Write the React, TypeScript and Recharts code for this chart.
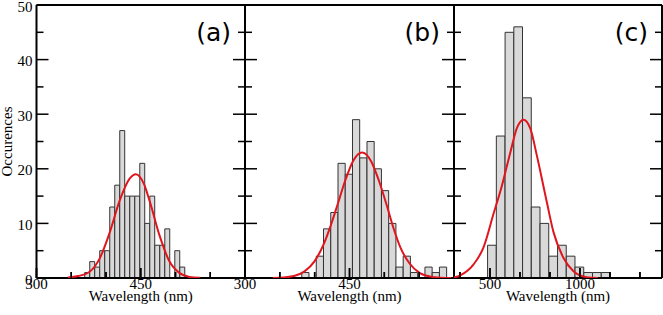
import React from 'react';
import { BarChart, Bar, LineChart, Line, XAxis, YAxis, Label } from 'recharts';

// ---------- data ----------
const aCenters = [373.0, 380.2, 387.4, 394.6, 401.8, 409.0, 416.2, 423.4, 430.6, 437.8, 445.0, 452.2, 459.4, 466.6, 473.8, 481.0, 488.2, 495.4, 502.6, 509.8];
const aCounts = [1, 3, 2, 5, 5, 13, 17, 27, 15, 15, 15, 21, 10, 15, 6, 6, 9, 0, 5, 2];
const aFitX = [345, 360, 376, 391, 405, 420, 434, 443, 455, 463, 477, 491, 506, 520, 535];
const aFitY = [0.08, 0.35, 1.1, 3.6, 8.2, 14.3, 18.2, 19.0, 17.1, 14.0, 7.8, 3.1, 0.9, 0.2, 0.03];

const bCenters = [386.7, 397.1, 407.5, 417.9, 428.3, 438.7, 449.1, 459.5, 469.9, 480.3, 490.7, 501.1, 511.5, 521.9, 532.3, 542.7, 553.1, 563.5, 573.9, 584.3];
const bCounts = [1, 0, 4, 9, 12, 21, 19, 29, 22, 25, 20, 16, 10, 2, 4, 1, 0, 2, 1, 2];
const bFitX = [340, 355, 370, 385, 400, 413, 423, 433, 444, 455, 468, 481, 492, 503, 513, 523, 536, 551, 566, 581, 596];
const bFitY = [0.02, 0.09, 0.36, 1.17, 3.1, 6.2, 9.6, 13.5, 17.9, 21.4, 23.0, 21.4, 17.9, 13.5, 9.2, 5.6, 2.7, 0.9, 0.25, 0.06, 0.01];

const cCenters = [511.0, 559.6, 608.2, 656.8, 705.4, 754.0, 802.6, 851.2, 899.8, 948.4, 997.0, 1045.6, 1094.2, 1142.8];
const cCounts = [6, 26, 45, 46, 33, 13, 10, 4, 6, 4, 2, 1, 1, 1];
const cFitX = [300, 335, 409, 464, 520, 567, 613, 650, 686, 724, 760, 812, 853, 908, 964, 1038, 1100];
const cFitY = [0.1, 0.5, 2.5, 5.6, 11.8, 17.0, 23.0, 27.5, 29.0, 27.4, 22.5, 14.5, 8.4, 3.7, 1.25, 0.15, 0.02];

const abTicks = [300, 350, 400, 450, 500, 550, 600];
const abMajor = [300, 450, 600];
const abLabels = [300, 450];
const cTicks = [333.33, 500, 666.67, 833.33, 1000, 1166.67, 1333.33];
const cMajor = [500, 1000];
const cLabels = [500, 1000];

const yTicks = [0, 5, 10, 15, 20, 25, 30, 35, 40, 45, 50];
const yLabels = [0, 10, 20, 30, 40, 50];

// ---------- layout ----------
const W = 663;
const H = 315;
const TOP = 5;
const BOTTOM = 278;
const SERIF = '"Liberation Serif", "Times New Roman", serif';
const SANS = '"DejaVu Sans", Verdana, sans-serif';

const hit = (list: number[], v: number) => list.some((m) => Math.abs(m - v) < 1e-6);

const bottomTick = (majors: number[], labels: number[]) => (p: any) => {
  const { x, y, payload } = p;
  const v = payload.value;
  const len = hit(majors, v) ? 10 : 6;
  return (
    <g>
      <line x1={x} x2={x} y1={y} y2={y - len} stroke="#000" strokeWidth={1.5} />
      {hit(labels, v) ? (
        <text x={x} y={y + 11} textAnchor="middle" fontFamily={SERIF} fontSize={15} fill="#000">
          {Math.round(v)}
        </text>
      ) : null}
    </g>
  );
};

const topTick = (majors: number[]) => (p: any) => {
  const { x, y, payload } = p;
  const len = hit(majors, payload.value) ? 10 : 6;
  return <line x1={x} x2={x} y1={y} y2={y + len} stroke="#000" strokeWidth={1.5} />;
};

const leftTick = (showLabels: boolean) => (p: any) => {
  const { x, y, payload } = p;
  const v = payload.value;
  const major = v % 10 === 0;
  return (
    <g>
      <line x1={x} x2={x + (major ? 12 : 7)} y1={y} y2={y} stroke="#000" strokeWidth={1.5} />
      {showLabels && hit(yLabels, v) ? (
        <text x={x - 4} y={y + 6.5} textAnchor="end" fontFamily={SERIF} fontSize={15} fill="#000">
          {v}
        </text>
      ) : null}
    </g>
  );
};

const rightTick = (p: any) => {
  const { x, y, payload } = p;
  const major = payload.value % 10 === 0;
  return <line x1={x} x2={x - (major ? 12 : 7)} y1={y} y2={y} stroke="#000" strokeWidth={1.5} />;
};

type PanelProps = {
  centers: number[];
  counts: number[];
  fitX: number[];
  fitY: number[];
  domain: [number, number];
  ticks: number[];
  majors: number[];
  labels: number[];
  tag: string;
  left: number;
  right: number;
  showY: boolean;
};

const layer: React.CSSProperties = { position: 'absolute', left: 0, top: 0 };

function Panel(props: PanelProps) {
  const { centers, counts, fitX, fitY, domain, ticks, majors, labels, tag, left, right, showY } = props;
  const rows = centers.map((x, i) => ({ x, n: counts[i] }));
  const fit = fitX.map((x, i) => ({ x, y: fitY[i] }));
  // axes occupy 1px each in the bar chart, so its margins are 1px smaller
  const barMargin = { top: TOP - 1, bottom: H - BOTTOM - 1, left: left - 1, right: W - right - 1 };
  const lineMargin = { top: TOP, bottom: H - BOTTOM - 1, left, right: W - right };
  const plotW = right - left;
  const band = (plotW * (centers[1] - centers[0])) / (domain[1] - domain[0]);
  const barSize = band - 0.06;

  return (
    <>
      <div style={layer}>
        <BarChart width={W} height={H} data={rows} margin={barMargin} barCategoryGap={0} barGap={0}>
          <Bar
            dataKey="n"
            xAxisId="bottom"
            yAxisId="left"
            fill="#d9d9d9"
            stroke="#333"
            strokeWidth={1}
            barSize={barSize}
            isAnimationActive={false}
          />
          <XAxis
            xAxisId="bottom"
            type="number"
            dataKey="x"
            domain={domain}
            allowDataOverflow
            ticks={ticks}
            interval={0}
            height={1}
            tickSize={0}
            tickMargin={0}
            tickLine={false}
            axisLine={{ stroke: '#000', strokeWidth: 2 }}
            tick={bottomTick(majors, labels)}
          >
            <Label
              content={(lp: any) => {
                const vb = lp.viewBox || {};
                return (
                  <text x={vb.x + vb.width / 2} y={301} textAnchor="middle" fontFamily={SERIF} fontSize={15} fill="#000">
                    Wavelength (nm)
                  </text>
                );
              }}
            />
          </XAxis>
          <XAxis
            xAxisId="top"
            orientation="top"
            type="number"
            domain={domain}
            allowDataOverflow
            ticks={ticks}
            interval={0}
            height={1}
            tickSize={0}
            tickMargin={0}
            tickLine={false}
            axisLine={{ stroke: '#000', strokeWidth: 2 }}
            tick={topTick(majors)}
          >
            <Label
              content={(lp: any) => {
                const vb = lp.viewBox || {};
                return (
                  <text x={vb.x + vb.width - 14} y={41} textAnchor="end" fontFamily={SANS} fontSize={25} fill="#000">
                    {tag}
                  </text>
                );
              }}
            />
          </XAxis>
          <YAxis
            yAxisId="left"
            type="number"
            domain={[0, 50]}
            allowDataOverflow
            ticks={yTicks}
            interval={0}
            width={1}
            tickSize={0}
            tickMargin={0}
            tickLine={false}
            axisLine={{ stroke: '#000', strokeWidth: 2 }}
            tick={leftTick(showY)}
          >
            {showY ? (
              <Label
                content={(lp: any) => {
                  const vb = lp.viewBox || {};
                  const cy = vb.y + vb.height / 2;
                  return (
                    <text
                      x={11.5}
                      y={cy}
                      transform={`rotate(-90, 11.5, ${cy})`}
                      textAnchor="middle"
                      fontFamily={SERIF}
                      fontSize={15}
                      fill="#000"
                    >
                      Occurences
                    </text>
                  );
                }}
              />
            ) : null}
          </YAxis>
          <YAxis
            yAxisId="right"
            orientation="right"
            type="number"
            domain={[0, 50]}
            allowDataOverflow
            ticks={yTicks}
            interval={0}
            width={1}
            tickSize={0}
            tickMargin={0}
            tickLine={false}
            axisLine={{ stroke: '#000', strokeWidth: 2 }}
            tick={rightTick}
          />
        </BarChart>
      </div>
      <div style={layer}>
        <LineChart width={W} height={H} data={fit} margin={lineMargin}>
          {/* tick marks repeated here so they sit on top of the bars */}
          <XAxis
            type="number"
            dataKey="x"
            domain={domain}
            allowDataOverflow
            ticks={ticks}
            interval={0}
            height={1}
            tickSize={0}
            tickMargin={0}
            tickLine={false}
            axisLine={false}
            tick={bottomTick(majors, [])}
          />
          <YAxis type="number" domain={[0, 50]} allowDataOverflow hide />
          <Line
            dataKey="y"
            type="monotone"
            stroke="#e0161e"
            strokeWidth={2}
            dot={false}
            activeDot={false}
            isAnimationActive={false}
          />
        </LineChart>
      </div>
    </>
  );
}

export default function App() {
  return (
    <div style={{ position: 'absolute', left: 0, top: 0, width: W, height: H, background: '#fff', overflow: 'hidden' }}>
      <Panel
        centers={aCenters}
        counts={aCounts}
        fitX={aFitX}
        fitY={aFitY}
        domain={[300, 600]}
        ticks={abTicks}
        majors={abMajor}
        labels={abLabels}
        tag="(a)"
        left={36.5}
        right={245}
        showY={true}
      />
      <Panel
        centers={bCenters}
        counts={bCounts}
        fitX={bFitX}
        fitY={bFitY}
        domain={[300, 600]}
        ticks={abTicks}
        majors={abMajor}
        labels={abLabels}
        tag="(b)"
        left={245}
        right={454}
        showY={false}
      />
      <Panel
        centers={cCenters}
        counts={cCounts}
        fitX={cFitX}
        fitY={cFitY}
        domain={[300, 1456]}
        ticks={cTicks}
        majors={cMajor}
        labels={cLabels}
        tag="(c)"
        left={454}
        right={662}
        showY={false}
      />
    </div>
  );
}
